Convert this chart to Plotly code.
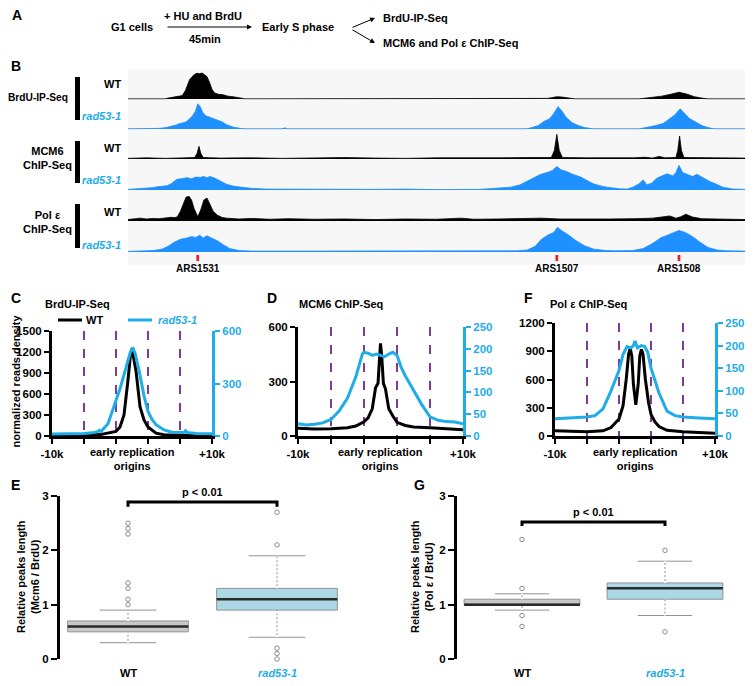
import plotly.graph_objects as go

# The page body adds an 8px margin, so the figure is drawn 8px smaller and
# every reference pixel position p is placed at p-8 inside the figure.
OFF = 8
W, H = 754 - OFF, 686 - OFF
def fx(p): return (p - OFF) / W
def fy(p): return 1 - (p - OFF) / H

BLACK = "#000000"
TRACK_BLUE = "#1e90ff"
CYAN = "#1fade8"
PURPLE = "#7d3c98"
FONT = "Liberation Sans, Arial, sans-serif"
FS = 11  # base font size

# ---------------- DATA ----------------
# Panel B genome tracks: (position kb within view 0-100, relative signal 0-1)
ars_names = ["ARS1531", "ARS1507", "ARS1508"]
ars_pos = [11.3, 69.5, 89.3]

brdu_wt = [(0,0),(2.5,0),(2.8,0.02),(3.1,0),(6.0,0),(6.5,0.03),(7.5,0.06),(8.2,0.1),(8.8,0.12),(9.3,0.3),
           (9.7,0.55),(10.0,0.7),(10.4,0.8),(10.8,0.88),(11.2,0.92),(11.6,0.9),(12.0,0.93),(12.4,0.88),
           (12.8,0.8),(13.2,0.6),(13.6,0.35),(14.0,0.22),(14.6,0.17),(15.4,0.15),(16.2,0.1),(17.0,0.08),
           (17.8,0.06),(18.6,0.02),(19.0,0),(67.5,0),(68.0,0.02),(68.8,0.05),(69.5,0.08),(70.3,0.07),
           (71.2,0.04),(72.0,0.01),(72.5,0),(82.8,0),(83.5,0.02),(85.0,0.05),(86.5,0.1),(88.0,0.17),
           (89.3,0.24),(90.5,0.18),(91.8,0.08),(93.0,0.03),(94.0,0),(100,0)]
brdu_mut = [(0,0),(3.9,0),(5,0.02),(6.2,0.05),(7.2,0.1),(7.8,0.14),(8.2,0.18),(8.8,0.22),(9.4,0.25),(9.9,0.35),
            (10.4,0.45),(10.9,0.62),(11.3,0.9),(11.7,0.8),(12.1,0.6),(12.6,0.47),(13.2,0.42),(13.8,0.36),
            (14.5,0.32),(15.3,0.25),(16,0.15),(17,0.07),(18.2,0.02),(19,0),(25,0),(25.4,0.04),(25.8,0),
            (64.5,0),(65.5,0.05),(66.5,0.12),(67.5,0.28),(68.3,0.36),(69,0.55),(69.7,0.8),(70.4,0.62),
            (71,0.42),(72,0.22),(73,0.12),(74,0.05),(75,0.02),(75.5,0),(82.8,0),(84,0.05),(85.5,0.12),
            (86.8,0.2),(87.8,0.35),(88.6,0.5),(89.5,0.72),(90.3,0.55),(91,0.37),(92,0.25),(93,0.12),
            (94,0.05),(95,0),(100,0)]
mcm6_wt = [(0,0.02),(3,0.04),(6,0.02),(9,0.04),(10.8,0.05),(11.2,0.2),(11.5,0.45),(11.8,0.2),(12.2,0.05),
           (15,0.03),(20,0.04),(25,0.02),(30,0.03),(35,0.05),(40,0.03),(45,0.02),(50,0.04),(55,0.03),
           (60,0.04),(65,0.05),(68.6,0.05),(69.1,0.3),(69.5,0.88),(69.9,0.3),(70.4,0.05),(74,0.04),
           (78,0.03),(82,0.04),(83.8,0.06),(85,0.03),(86.1,0.09),(87,0.04),(88.8,0.05),(89.1,0.3),
           (89.4,0.82),(89.7,0.3),(90.1,0.05),(94,0.04),(97,0.03),(100,0.03)]
mcm6_mut = [(0,0.02),(2,0.04),(3.9,0.08),(5,0.12),(6.3,0.15),(7,0.22),(7.9,0.38),(8.6,0.4),(9.6,0.44),
            (10.3,0.4),(11,0.46),(11.7,0.45),(12.3,0.48),(12.8,0.44),(13.3,0.48),(14.1,0.42),(14.9,0.32),
            (16,0.2),(17,0.14),(18.5,0.09),(19.8,0.06),(22.5,0.03),(30,0.02),(40,0.02),(45,0.03),(50,0.01),
            (57,0.02),(60.3,0.06),(62,0.1),(63.5,0.18),(64.5,0.3),(65.6,0.42),(66.8,0.55),(67.9,0.62),
            (68.8,0.7),(69.5,0.84),(70.2,0.72),(71.1,0.66),(72.2,0.55),(73.3,0.47),(74.3,0.35),(75.4,0.22),
            (76.5,0.15),(77.6,0.1),(79.7,0.04),(80.9,0.03),(81.8,0.1),(82.7,0.2),(83.5,0.36),(84.1,0.18),
            (84.9,0.25),(85.7,0.42),(86.5,0.5),(87.4,0.58),(88.3,0.5),(88.8,0.62),(89.3,0.88),(89.9,0.62),
            (90.6,0.56),(91.5,0.48),(92.2,0.56),(92.7,0.5),(93.5,0.38),(94.3,0.3),(95.4,0.2),(96.4,0.1),
            (98.1,0.03),(100,0.02)]
pole_wt = [(0,0.05),(2,0.1),(3,0.07),(4,0.09),(5,0.08),(6,0.11),(7,0.13),(7.6,0.12),(8.0,0.15),(8.5,0.35),
           (9.0,0.65),(9.4,0.85),(9.9,0.88),(10.3,0.75),(10.7,0.45),(11.3,0.15),(11.8,0.4),(12.3,0.75),
           (12.8,0.82),(13.3,0.6),(13.8,0.35),(14.5,0.2),(15.3,0.12),(16,0.1),(18,0.07),(20,0.09),(23,0.06),
           (26,0.08),(30,0.06),(35,0.07),(40,0.05),(45,0.07),(50,0.06),(54,0.1),(56,0.06),(60,0.07),
           (64,0.08),(67,0.1),(70,0.07),(74,0.06),(78,0.07),(82,0.08),(85,0.1),(86.5,0.14),(87.8,0.18),
           (88.8,0.1),(89.6,0.15),(90.4,0.24),(91.5,0.14),(93,0.08),(96,0.07),(100,0.05)]
pole_mut = [(0,0.02),(2,0.03),(4,0.05),(5.5,0.1),(6.5,0.2),(7.5,0.35),(8.5,0.45),(9.5,0.5),(10.3,0.55),
            (11,0.52),(11.6,0.6),(12.2,0.5),(12.8,0.58),(13.5,0.5),(14.5,0.4),(15.5,0.25),(16.5,0.12),
            (18,0.05),(20,0.03),(30,0.03),(40,0.04),(50,0.03),(60,0.04),(63,0.04),(64.7,0.07),(66,0.2),
            (67,0.45),(68,0.6),(69,0.7),(69.6,0.88),(70.3,0.76),(71.3,0.62),(72.5,0.42),(74,0.22),
            (75.5,0.1),(77.5,0.05),(79,0.04),(81.8,0.05),(83.5,0.12),(85,0.3),(86.3,0.5),(87.5,0.6),
            (88.5,0.7),(89.3,0.77),(90.3,0.7),(91.5,0.55),(92.7,0.35),(94,0.16),(95.5,0.07),(97,0.04),
            (100,0.03)]

# Panels C, D, F: meta-profiles around early origins (kb), WT on left axis, rad53-1 on right axis
c_wt_x = [-10,-8,-6,-4,-3,-2,-1.5,-1,-0.5,-0.2,0,0.2,0.5,1,1.5,2,3,4,6,8,10]
c_wt_y = [8,8,10,20,40,65,130,300,800,1150,1250,1130,930,420,230,130,40,18,10,6,5]
c_mut_x = [-10,-8,-6,-5,-4.3,-4.1,-3.9,-3,-2,-1.5,-1,-0.5,-0.2,0.1,0.4,0.9,1.5,2,2.5,3,4,5,6.5,6.7,6.9,8,10]
c_mut_y = [12,12,14,18,25,32,25,70,200,270,350,430,480,505,470,370,230,140,95,65,35,22,20,30,20,15,13]

d_wt_x = [-10,-8,-6,-4,-3,-2,-1.5,-1,-0.6,-0.3,-0.1,0,0.15,0.35,0.6,1,1.5,2,3,4,6,8,10]
d_wt_y = [42,38,40,45,55,78,100,150,265,290,440,510,440,290,260,150,110,75,58,50,45,38,35]
d_mut_x = [-10,-9,-8,-7,-6,-5,-4,-3,-2.2,-2,-1.5,-1,-0.5,0,0.5,1,1.5,2,2.5,3,4,5,6,7,8,9,10]
d_mut_y = [28,25,27,30,38,58,87,135,188,192,190,185,188,185,182,188,192,185,158,138,105,72,44,36,33,32,28]

f_wt_x = [-10,-8,-6,-4,-3,-2,-1.5,-1.1,-0.8,-0.6,-0.4,-0.2,0.1,0.4,0.6,0.8,1.0,1.3,1.7,2,2.5,3,4,6,8,10]
f_wt_y = [55,50,45,55,90,180,320,600,870,930,850,550,330,550,850,920,870,600,350,230,150,100,60,45,35,30]
f_mut_x = [-10,-8,-6,-5,-4,-3,-2,-1.5,-1,-0.5,-0.2,0,0.3,0.8,1.2,1.6,2,3,4,5,6,8,10]
f_mut_y = [38,40,42,45,60,100,145,180,198,195,200,210,195,200,198,185,150,95,55,45,42,40,38]

# Panels E, G: box plot summaries (WT, rad53-1)
box_cats = ["WT", "rad53-1"]
e_q1 = [0.5, 0.9]; e_med = [0.6, 1.1]; e_q3 = [0.7, 1.3]; e_lo = [0.3, 0.4]; e_hi = [0.9, 1.9]
e_out_wt = [1.0, 1.1, 1.3, 1.4, 2.3, 2.4, 2.5]
e_out_mut = [0.0, 0.1, 0.2, 2.1, 2.7]
g_q1 = [1.0, 1.1]; g_med = [1.0, 1.3]; g_q3 = [1.1, 1.4]; g_lo = [0.9, 0.8]; g_hi = [1.2, 1.8]
g_out_wt = [0.6, 0.8, 1.3, 2.2]
g_out_mut = [0.5, 2.0]

# ---------------- FIGURE ----------------
fig = go.Figure()
layout = dict(template="none", width=W, height=H, margin=dict(l=0, r=0, t=0, b=0, pad=0),
              autosize=False, paper_bgcolor="white",
              plot_bgcolor="rgba(0,0,0,0)", showlegend=False,
              font=dict(family=FONT, size=FS, color="black"))
annotations = []
shapes = []

def txt(x, y, s, size=FS, color="black", xanchor="center", italic=False, angle=0, xref="paper", yref="paper"):
    if italic:
        s = "<i>" + s + "</i>"
    annotations.append(dict(x=x, y=y, xref=xref, yref=yref, text=s, showarrow=False, xanchor=xanchor,
                            yanchor="middle", textangle=angle,
                            font=dict(family=FONT, size=size, color=color, weight="bold")))

# ---- Panel A ----
txt(fx(10), fy(15), "A", 14, xanchor="left")
txt(fx(109), fy(27), "G1 cells", FS, xanchor="left")
txt(fx(203), fy(16), "+ HU and BrdU", FS)
txt(fx(205), fy(39), "45min", FS)
txt(fx(260), fy(27), "Early S phase", FS, xanchor="left")
txt(fx(381), fy(18), "BrdU-IP-Seq", FS, xanchor="left")
txt(fx(381), fy(43), "MCM6 and Pol ε ChIP-Seq", FS, xanchor="left")
for (x1, y1, ax, ay) in [(252, 27, -86, 0), (375, 18, -24, 10), (375, 43, -24, -14)]:
    annotations.append(dict(x=fx(x1), y=fy(y1), xref="paper", yref="paper", ax=ax, ay=ay, text="",
                            showarrow=True, arrowhead=2, arrowsize=1, arrowwidth=1, arrowcolor="black"))

# ---- Panel B ----
txt(fx(8.5), fy(66), "B", 14, xanchor="left")
shapes.append(dict(type="rect", xref="paper", yref="paper", x0=fx(128), x1=fx(745), y0=fy(265), y1=fy(69),
                   fillcolor="#f7f7f7", line=dict(width=0), layer="below"))
track_baselines = [99, 129, 159, 190, 221, 252]
tracks = [(brdu_wt, BLACK), (brdu_mut, TRACK_BLUE), (mcm6_wt, BLACK),
          (mcm6_mut, TRACK_BLUE), (pole_wt, BLACK), (pole_mut, TRACK_BLUE)]
layout["xaxis"] = dict(domain=[fx(128), fx(745)], range=[0, 100], visible=False, anchor="y",
                       fixedrange=True, automargin=False)
for i, (data, color) in enumerate(tracks):
    yname = "yaxis" if i == 0 else f"yaxis{i+1}"
    yref = "y" if i == 0 else f"y{i+1}"
    B = track_baselines[i]
    layout[yname] = dict(domain=[fy(B + 0.5), fy(B - 28)], range=[-0.02, 1.0], anchor="x",
                         showgrid=False, showticklabels=False, ticks="", zeroline=True, zerolinecolor="#c8c8c8",
                         zerolinewidth=1, showline=False, fixedrange=True, automargin=False)
    fig.add_trace(go.Scatter(x=[p for p, v in data], y=[v for p, v in data], xaxis="x", yaxis=yref,
                             mode="lines", line=dict(color=color, width=0.8), fill="tozeroy",
                             fillcolor=color, hoverinfo="skip"))
# ARS markers
for name, pos in zip(ars_names, ars_pos):
    shapes.append(dict(type="rect", xref="x", yref="paper", x0=pos - 0.22, x1=pos + 0.22,
                       y0=fy(261), y1=fy(255), fillcolor="#e8202a", line=dict(width=0)))
    txt(pos, fy(268), name, 10, xref="x")
# side labels
side = [("BrdU-IP-Seq", 98, 77, 120, 69.5, "right", 10.2),
        ("MCM6<br>ChIP-Seq", 158, 141, 183, 47, "center", FS),
        ("Pol ε<br>ChIP-Seq", 222, 204, 248, 47, "center", FS)]
for s, yc, b0, b1, xt, anc, fsz in side:
    txt(fx(xt), fy(yc), s, fsz, xanchor=anc)
    shapes.append(dict(type="rect", xref="paper", yref="paper", x0=fx(75), x1=fx(80), y0=fy(b1), y1=fy(b0),
                       fillcolor="black", line=dict(width=0)))
for yw, ym in [(84, 116), (148, 180), (212, 245)]:
    txt(fx(123), fy(yw), "WT", FS, xanchor="right")
    txt(fx(123), fy(ym), "rad53-1", FS, color=CYAN, xanchor="right", italic=True)

# ---- Panels C, D, F ----
profiles = [
    dict(letter="C", lx=8.5, title="BrdU-IP-Seq", tx=43, x0=52, x1=212, top=331,
         wt=(c_wt_x, c_wt_y), mut=(c_mut_x, c_mut_y), lrange=1500, ltick=300, rrange=600, rtick=300),
    dict(letter="D", lx=265, title="MCM6 ChIP-Seq", tx=297, x0=298, x1=463, top=327,
         wt=(d_wt_x, d_wt_y), mut=(d_mut_x, d_mut_y), lrange=600, ltick=300, rrange=250, rtick=50),
    dict(letter="F", lx=522, title="Pol ε ChIP-Seq", tx=548, x0=555, x1=715, top=323,
         wt=(f_wt_x, f_wt_y), mut=(f_mut_x, f_mut_y), lrange=1200, ltick=300, rrange=250, rtick=50),
]
bottom = 436
tickf = dict(family=FONT, size=11.5, color="black", weight="bold")
for j, p in enumerate(profiles):
    xn = j + 2
    yl = 7 + 2 * j
    yr = yl + 1
    layout[f"xaxis{xn}"] = dict(domain=[fx(p["x0"]), fx(p["x1"])], range=[-10, 10], anchor=f"y{yl}",
                                tickvals=[-10, -6, -2, 2, 6, 10], ticktext=["-10k", "", "", "", "", "+10k"],
                                ticks="outside", ticklen=5, tickwidth=2, tickcolor="black",
                                showline=True, linewidth=3, linecolor="black",
                                showgrid=True, gridcolor=PURPLE, griddash="dash", gridwidth=1.5,
                                zeroline=False, fixedrange=True, automargin=False, tickfont=tickf)
    layout[f"yaxis{yl}"] = dict(domain=[fy(bottom), fy(p["top"])], range=[0, p["lrange"]], anchor=f"x{xn}",
                                dtick=p["ltick"], tick0=0, ticks="outside", ticklen=5, tickwidth=2,
                                tickcolor="black", showline=True, linewidth=3, linecolor="black",
                                showgrid=False, zeroline=False, fixedrange=True, automargin=False,
                                tickfont=tickf)
    layout[f"yaxis{yr}"] = dict(overlaying=f"y{yl}", side="right", anchor=f"x{xn}", range=[0, p["rrange"]],
                                dtick=p["rtick"], tick0=0, ticks="outside", ticklen=5, tickwidth=2,
                                tickcolor=CYAN, showline=True, linewidth=3, linecolor=CYAN,
                                showgrid=False, zeroline=False, fixedrange=True, automargin=False,
                                tickfont=dict(family=FONT, size=11.5, color=CYAN, weight="bold"))
    fig.add_trace(go.Scatter(x=p["mut"][0], y=p["mut"][1], xaxis=f"x{xn}", yaxis=f"y{yr}", mode="lines",
                             line=dict(color=CYAN, width=3), hoverinfo="skip", name="rad53-1"))
    fig.add_trace(go.Scatter(x=p["wt"][0], y=p["wt"][1], xaxis=f"x{xn}", yaxis=f"y{yl}", mode="lines",
                             line=dict(color=BLACK, width=3), hoverinfo="skip", name="WT"))
    txt(fx(p["lx"]), fy(298), p["letter"], 14, xanchor="left")
    txt(fx(p["tx"]), fy(304), p["title"], FS, xanchor="left")
    cx = (p["x0"] + p["x1"]) / 2
    txt(fx(cx), fy(459), "early replication<br>origins", FS)

# legend for C
shapes.append(dict(type="line", xref="paper", yref="paper", x0=fx(58), x1=fx(82), y0=fy(320), y1=fy(320),
                   line=dict(color="black", width=3)))
txt(fx(84), fy(320), "WT", FS, xanchor="left")
shapes.append(dict(type="line", xref="paper", yref="paper", x0=fx(128), x1=fx(152), y0=fy(320), y1=fy(320),
                   line=dict(color=CYAN, width=3)))
txt(fx(156), fy(320), "rad53-1", FS, color=CYAN, xanchor="left", italic=True)
txt(fx(15.5), fy(381), "normalized reads density", FS, angle=-90)

# ---- Panels E, G ----
boxes = [
    dict(letter="E", lx=9, ax0=60, c0=128, c1=277, right=360, q1=e_q1, med=e_med, q3=e_q3, lo=e_lo, hi=e_hi,
         outs=[e_out_wt, e_out_mut], br=(2.8, 2.89), ptxt_y=492, ylab="Relative peaks length<br>(Mcm6 / BrdU)",
         ylx=28),
    dict(letter="G", lx=412, ax0=457, c0=522, c1=665, right=745, q1=g_q1, med=g_med, q3=g_q3, lo=g_lo, hi=g_hi,
         outs=[g_out_wt, g_out_mut], br=(2.45, 2.52), ptxt_y=512, ylab="Relative peaks length<br>(Pol ε / BrdU)",
         ylx=422),
]
fills = ["#c8c8c8", "#acd8e6"]
for j, b in enumerate(boxes):
    xn = 5 + j
    yn = 13 + j
    unit = b["c1"] - b["c0"]
    xl = (b["ax0"] - b["c0"]) / unit
    xr = (b["right"] - b["c0"]) / unit
    layout[f"xaxis{xn}"] = dict(domain=[fx(b["ax0"]), fx(b["right"])], range=[xl, xr],
                                anchor=f"y{yn}", visible=False, fixedrange=True, automargin=False)
    layout[f"yaxis{yn}"] = dict(domain=[fy(659), fy(496)], range=[0, 3], anchor=f"x{xn}", dtick=1, tick0=0,
                                ticks="outside", ticklen=6, tickwidth=2, tickcolor="black", showline=True,
                                linewidth=3, linecolor="black", showgrid=False, zeroline=False, fixedrange=True,
                                automargin=False, tickfont=tickf)
    bw = 0.81
    for k in range(2):
        fig.add_trace(go.Box(x=[k], q1=[b["q1"][k]], median=[b["med"][k]], q3=[b["q3"][k]],
                             lowerfence=[b["lo"][k]], upperfence=[b["hi"][k]], width=bw,
                             fillcolor=fills[k], line=dict(color="#929292", width=1), whiskerwidth=0.47,
                             boxpoints=False, xaxis=f"x{xn}", yaxis=f"y{yn}", hoverinfo="skip"))
        # break the whisker stems into dots (reference whiskers are dotted)
        for (ya, yb) in [(b["q3"][k], b["hi"][k]), (b["lo"][k], b["q1"][k])]:
            if yb > ya:
                fig.add_trace(go.Scatter(x=[k, k], y=[ya, yb], mode="lines",
                                         line=dict(color="white", width=2, dash="2px,2px"),
                                         xaxis=f"x{xn}", yaxis=f"y{yn}", hoverinfo="skip"))
        fig.add_trace(go.Scatter(x=[k - bw / 2, k + bw / 2], y=[b["med"][k]] * 2, mode="lines",
                                 line=dict(color="#2a2a2a", width=2.5), xaxis=f"x{xn}", yaxis=f"y{yn}",
                                 hoverinfo="skip"))
        fig.add_trace(go.Scatter(x=[k] * len(b["outs"][k]), y=b["outs"][k], mode="markers",
                                 marker=dict(symbol="circle-open", size=4.5, color="#8c8c8c", line=dict(width=1)),
                                 xaxis=f"x{xn}", yaxis=f"y{yn}", cliponaxis=False, hoverinfo="skip"))
    lo_b, hi_b = b["br"]
    fig.add_trace(go.Scatter(x=[0, 0, 1, 1], y=[lo_b, hi_b, hi_b, lo_b], mode="lines",
                             line=dict(color="black", width=3), xaxis=f"x{xn}", yaxis=f"y{yn}",
                             cliponaxis=False, hoverinfo="skip"))
    txt(0.5, fy(b["ptxt_y"]), "p < 0.01", FS, xref=f"x{xn}")
    txt(0, fy(673), box_cats[0], FS, xref=f"x{xn}")
    txt(1, fy(673), box_cats[1], FS, color=CYAN, italic=True, xref=f"x{xn}")
    txt(fx(b["lx"]), fy(485), b["letter"], 14, xanchor="left")
    txt(fx(b["ylx"]), fy(577), b["ylab"], FS, angle=-90)

layout["annotations"] = annotations
layout["shapes"] = shapes
fig.update_layout(**layout)
fig.write_html("out.html")
